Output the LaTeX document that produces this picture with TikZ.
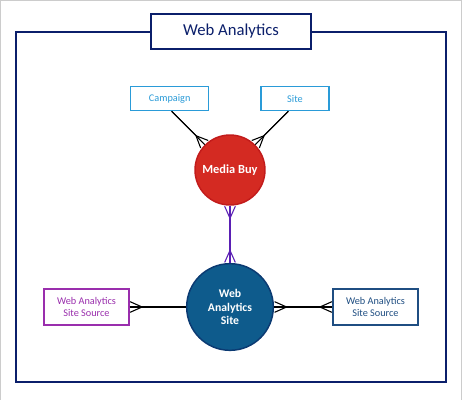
\documentclass[tikz,border=0pt]{standalone}
\usepackage{fontspec}
\setmainfont{Carlito}
\usetikzlibrary{arrows.meta}

\definecolor{framenavy}{HTML}{0B1F6B}
\definecolor{skyblue}{HTML}{2A9BD8}
\definecolor{mbred}{HTML}{D42A22}
\definecolor{mbrim}{HTML}{C21B1B}
\definecolor{wasblue}{HTML}{0E5B8C}
\definecolor{wasrim}{HTML}{0B3A72}
\definecolor{srcpurple}{HTML}{9A2EAD}
\definecolor{srcnavy}{HTML}{1F4E82}
\definecolor{linkpurple}{HTML}{5A1FB4}

\begin{document}
\begin{tikzpicture}[x=.75pt,y=-.75pt,
  entity/.style={draw,line width=.8pt,fill=white,inner sep=0pt,align=center},
  hub/.style={circle,draw,line width=1.1pt,inner sep=0pt,align=center,text=white,font=\bfseries},
  crow/.tip={Straight Barb[reversed,length=9pt,width=8pt]},
  rel/.style={line width=.8pt}]
% \draw [help lines] (0,0) grid (462,400)  ;

\useasboundingbox (0,0) rectangle (462,400);
\draw [black!20, line width=.75pt] (0,0) rectangle (462,400);

% frame and title
\draw [framenavy, line width=.9pt] (16,32) rectangle (446,382);
\node [entity, draw=framenavy, text=framenavy, minimum width=120pt, minimum height=26.25pt,
       font=\fontsize{12.5}{15}\selectfont] (title) at (231,31.5) {Web Analytics};

% entities
\node [entity, draw=skyblue, text=skyblue, minimum width=58.5pt, minimum height=18pt,
       font=\fontsize{7.7}{9.2}\selectfont] (camp) at (169.7,98.7) {Campaign};
\node [entity, draw=skyblue, text=skyblue, minimum width=51pt, minimum height=18pt,
       font=\fontsize{7.7}{9.2}\selectfont] (site) at (295,98.7) {Site};

\node [hub, draw=mbrim, fill=mbred, minimum size=52.5pt,
       font=\bfseries\fontsize{9.3}{11}\selectfont] (mb) at (230,170) {Media Buy};
\node [hub, draw=wasrim, fill=wasblue, minimum size=65pt,
       font=\bfseries\fontsize{8.8}{10}\selectfont] (was) at (230,307) {Web\\Analytics\\Site};

\node [entity, draw=srcpurple, text=srcpurple, minimum width=63.75pt, minimum height=27pt,
       font=\fontsize{7.7}{9.2}\selectfont] (srcleft) at (86.5,307) {Web Analytics\\Site Source};
\node [entity, draw=srcnavy, text=srcnavy, minimum width=63.75pt, minimum height=27pt,
       font=\fontsize{7.7}{9.2}\selectfont] (srcright) at (375.5,307) {Web Analytics\\Site Source};

% relations
\draw [rel] ([xshift=1.5pt]camp.south) -- (mb);
\draw [rel, -crow] ([xshift=1.5pt]camp.south) -- (mb);
\draw [rel] ([xshift=-5pt]site.south) -- (mb);
\draw [rel, -crow] ([xshift=-5pt]site.south) -- (mb);
\draw [rel, linkpurple] (mb) -- (was);
\draw [rel, linkpurple, crow-crow] (mb) -- (was);
\draw [rel] (srcleft) -- (was);
\draw [rel, crow-] (srcleft) -- (was);
\draw [rel] (was) -- (srcright);
\draw [rel, crow-crow] (was) -- (srcright);
\end{tikzpicture}
\end{document}
